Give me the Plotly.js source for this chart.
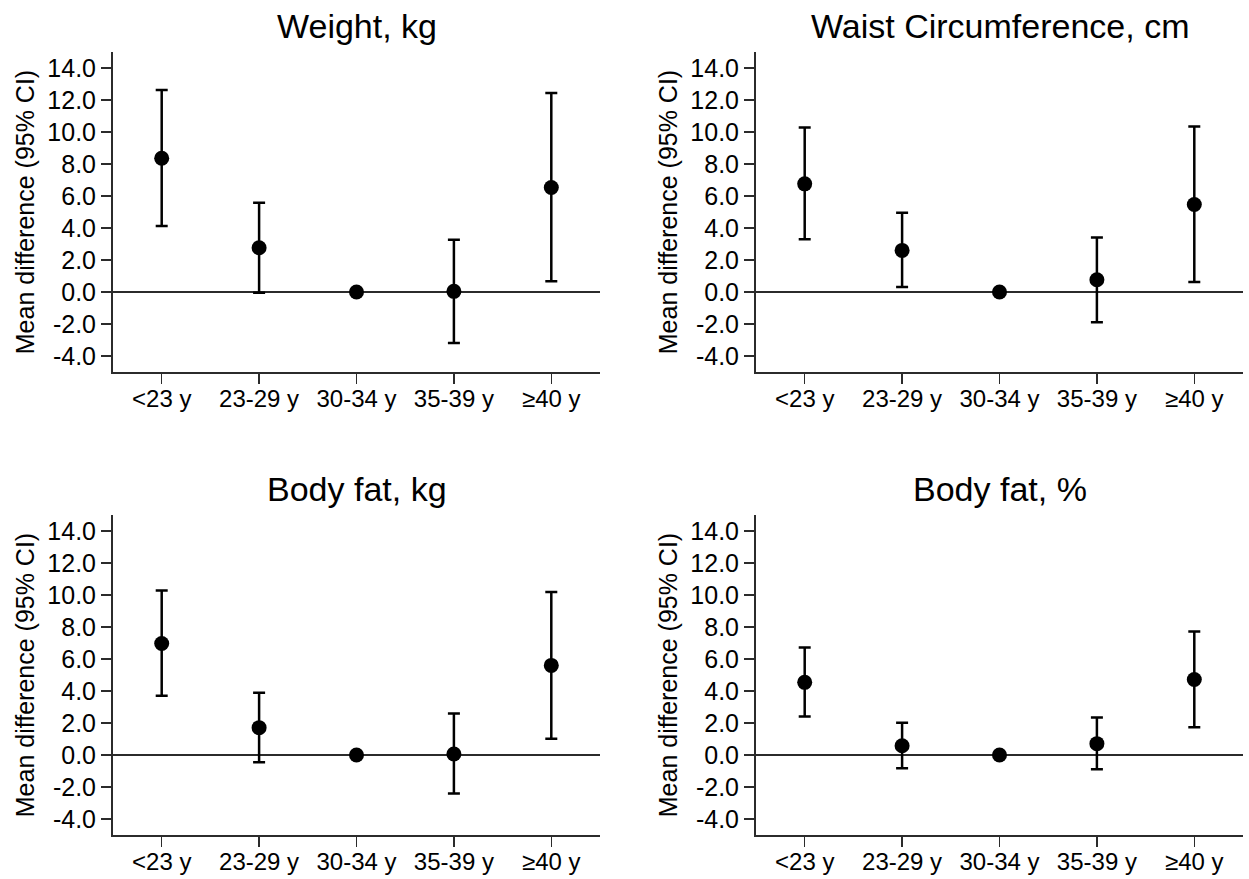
<!DOCTYPE html>
<html>
<head>
<meta charset="utf-8">
<script src="https://cdn.plot.ly/plotly-3.0.1.min.js"></script>
<style>html,body{margin:0;padding:0;background:#fff;}#chart{width:1249px;height:879px;}</style>
</head>
<body>
<div id="chart"></div>
<script>
// Categories (age groups)
const categories = ["<23 y", "23-29 y", "30-34 y", "35-39 y", "\u226540 y"];

// Panel titles
const panelTitles = ["Weight, kg", "Waist Circumference, cm", "Body fat, kg", "Body fat, %"];

// Weight, kg
const weightMean  = [8.36, 2.77, 0.0, 0.04, 6.53];
const weightLower = [4.12, -0.04, 0.0, -3.18, 0.67];
const weightUpper = [12.63, 5.58, 0.0, 3.27, 12.44];

// Waist circumference, cm
const waistMean  = [6.76, 2.60, 0.0, 0.77, 5.47];
const waistLower = [3.29, 0.31, 0.0, -1.89, 0.62];
const waistUpper = [10.28, 4.95, 0.0, 3.41, 10.34];

// Body fat, kg
const fatKgMean  = [6.97, 1.71, 0.0, 0.06, 5.60];
const fatKgLower = [3.70, -0.46, 0.0, -2.41, 1.02];
const fatKgUpper = [10.28, 3.89, 0.0, 2.60, 10.19];

// Body fat, %
const fatPctMean  = [4.54, 0.58, 0.0, 0.71, 4.72];
const fatPctLower = [2.41, -0.83, 0.0, -0.89, 1.73];
const fatPctUpper = [6.72, 2.02, 0.0, 2.35, 7.72];

// Y axis ticks
const yTickVals = [-4, -2, 0, 2, 4, 6, 8, 10, 12, 14];
const yTickText = yTickVals.map(v => v.toFixed(1));
const yAxisTitle = "Mean difference (95% CI)";

const panels = [
  {mean: weightMean, lower: weightLower, upper: weightUpper},
  {mean: waistMean, lower: waistLower, upper: waistUpper},
  {mean: fatKgMean, lower: fatKgLower, upper: fatKgUpper},
  {mean: fatPctMean, lower: fatPctLower, upper: fatPctUpper}
];

const W = 1249, H = 879;
const xDomains = [[113/W, 600/W], [756/W, 1243/W]];
const yDomains = [[(H-372)/H, (H-52)/H], [(H-835)/H, (H-515)/H]];

const FONT = "'Liberation Sans', Arial, Helvetica, sans-serif";
const AXC = "#2b2b2b";

const data = [];
const layout = {
  width: W, height: H,
  margin: {l: 0, r: 0, t: 0, b: 0},
  paper_bgcolor: "#fff", plot_bgcolor: "#fff",
  showlegend: false,
  font: {family: FONT, color: "#000", size: 25},
  annotations: []
};

panels.forEach((p, i) => {
  const n = i + 1;
  const xa = n === 1 ? "x" : "x" + n;
  const ya = n === 1 ? "y" : "y" + n;
  data.push({
    type: "scatter", mode: "markers",
    x: categories, y: p.mean,
    xaxis: xa, yaxis: ya,
    marker: {color: "#000", size: 15},
    error_y: {
      type: "data", symmetric: false,
      array: p.upper.map((u, k) => u - p.mean[k]),
      arrayminus: p.mean.map((m, k) => m - p.lower[k]),
      color: "#000", thickness: 2.5, width: 6
    },
    hoverinfo: "skip", cliponaxis: false
  });
  const col = i % 2, row = Math.floor(i / 2);
  layout["xaxis" + (n === 1 ? "" : n)] = {
    domain: xDomains[col], anchor: ya,
    type: "category", range: [-0.5, 4.5],
    showline: true, linecolor: AXC, linewidth: 2,
    ticks: "outside", ticklen: 10, tickwidth: 1.5, tickcolor: AXC,
    showgrid: false, zeroline: false,
    ticklabelstandoff: -6,
    tickfont: {family: FONT, size: 24, color: "#000"}
  };
  layout["yaxis" + (n === 1 ? "" : n)] = {
    domain: yDomains[row], anchor: xa,
    range: [-5, 15],
    tickvals: yTickVals, ticktext: yTickText,
    showline: true, linecolor: AXC, linewidth: 2,
    ticks: "outside", ticklen: 10, tickwidth: 1.5, tickcolor: AXC,
    showgrid: false,
    zeroline: true, zerolinecolor: AXC, zerolinewidth: 1.5,
    tickfont: {family: FONT, size: 25, color: "#000"},
    title: {text: yAxisTitle, font: {family: FONT, size: 25, color: "#000"}, standoff: 6}
  };
  layout.annotations.push({
    text: panelTitles[i],
    xref: "paper", yref: "paper",
    x: (xDomains[col][0] + xDomains[col][1]) / 2,
    y: yDomains[row][1],
    xanchor: "center", yanchor: "bottom",
    yshift: 5,
    showarrow: false,
    font: {family: FONT, size: 34, color: "#000"}
  });
});

Plotly.newPlot("chart", data, layout, {displayModeBar: false, staticPlot: true});
</script>
</body>
</html>
